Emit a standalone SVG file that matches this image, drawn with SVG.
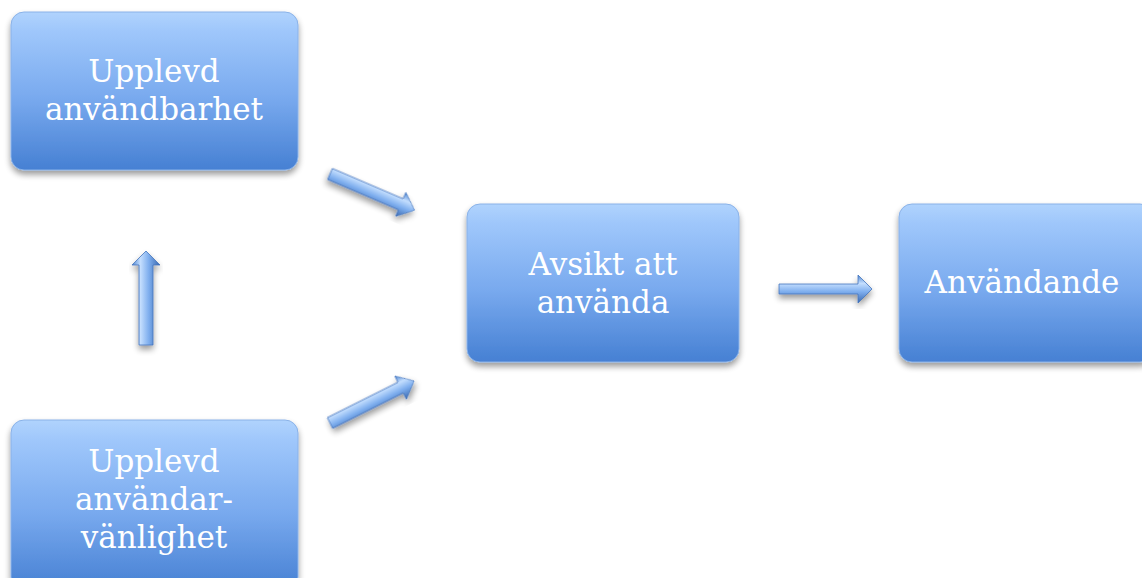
<svg xmlns="http://www.w3.org/2000/svg" width="1142" height="578" viewBox="0 0 1142 578">
<defs>
<linearGradient id="boxg" x1="0" y1="0" x2="0" y2="1">
<stop offset="0" stop-color="#b0d3fd"/>
<stop offset="0.12" stop-color="#9fc7fb"/>
<stop offset="0.55" stop-color="#78a9ee"/>
<stop offset="1" stop-color="#4680d3"/>
</linearGradient>
<linearGradient id="arrg" x1="0" y1="0" x2="0" y2="1">
<stop offset="0" stop-color="#4f86d2"/>
<stop offset="0.3" stop-color="#c4defe"/>
<stop offset="0.6" stop-color="#7eaeee"/>
<stop offset="1" stop-color="#3a69b0"/>
</linearGradient>
<linearGradient id="arrgv" x1="0" y1="0" x2="1" y2="0">
<stop offset="0" stop-color="#4f86d2"/>
<stop offset="0.3" stop-color="#c4defe"/>
<stop offset="0.6" stop-color="#7eaeee"/>
<stop offset="1" stop-color="#3a69b0"/>
</linearGradient>
<filter id="sh" x="-10%" y="-10%" width="120%" height="130%">
<feGaussianBlur in="SourceAlpha" stdDeviation="3"/>
<feOffset dx="0" dy="4" result="b"/>
<feComponentTransfer><feFuncA type="linear" slope="0.4"/></feComponentTransfer>
<feMerge><feMergeNode/><feMergeNode in="SourceGraphic"/></feMerge>
</filter>
</defs>
<style>
.box{fill:url(#boxg);stroke:#8ab2e8;stroke-width:1;filter:url(#sh)}
.t{font-family:"DejaVu Serif","Liberation Serif",serif;font-size:31px;fill:#ffffff;text-anchor:middle}
.arr{fill:url(#arrg);stroke:#4475bd;stroke-width:0.8;filter:url(#sh)}
.arrv{fill:url(#arrgv);stroke:#4475bd;stroke-width:0.8;filter:url(#sh)}
</style>
<rect width="1142" height="578" fill="#ffffff"/>
<g id="connectors">
<path class="arr" transform="translate(330,174) rotate(23.2)" d="M0,-6 L77,-6 L77,-13 L92,0 L77,13 L77,6 L0,6 Z"/>
<path class="arr" transform="translate(330,423) rotate(-26.6)" d="M0,-6 L79,-6 L79,-13 L94,0 L79,13 L79,6 L0,6 Z"/>
<path class="arrv" d="M139,345 L139,265 L132,265 L146,251 L160,265 L153,265 L153,345 Z"/>
<path class="arr" d="M779,284 L858,284 L858,275 L872,289 L858,303 L858,294 L779,294 Z"/>
</g>
<g id="node-upplevd-anvandbarhet">
<rect class="box" x="11" y="12" width="287" height="158" rx="13"/>
<text class="t" x="154" y="82">Upplevd</text>
<text class="t" x="154" y="120">användbarhet</text>
</g>
<g id="node-avsikt">
<rect class="box" x="467" y="204" width="272" height="158" rx="13"/>
<text class="t" x="603" y="275">Avsikt att</text>
<text class="t" x="603" y="313">använda</text>
</g>
<g id="node-anvandande">
<rect class="box" x="899" y="204" width="254" height="158" rx="13"/>
<text class="t" x="1022" y="293">Användande</text>
</g>
<g id="node-upplevd-anvandarvanlighet">
<rect class="box" x="11" y="420" width="287" height="170" rx="13"/>
<text class="t" x="154" y="472">Upplevd</text>
<text class="t" x="154" y="510">användar-</text>
<text class="t" x="154" y="548">vänlighet</text>
</g>
</svg>
